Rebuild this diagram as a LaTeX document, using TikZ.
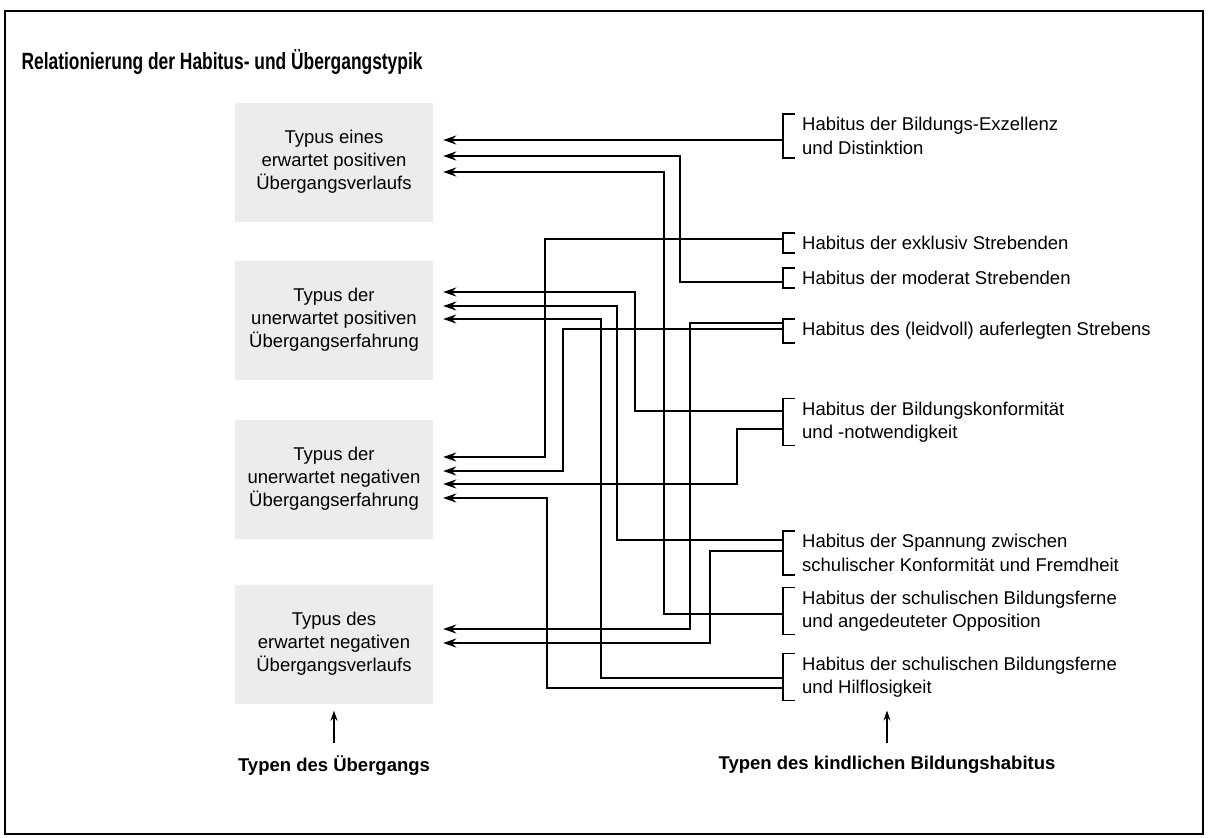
\documentclass[tikz,border=0pt]{standalone}
\usepackage{fontspec}
\setmainfont{Liberation Sans}
\newfontfamily\condfont[FakeStretch=0.74]{Liberation Sans}
\usepackage{tikz}
\usetikzlibrary{calc,arrows.meta,positioning}
\definecolor{boxgray}{RGB}{236,236,236}

\begin{document}
\begin{tikzpicture}[x=1pt,y=-1pt,
        typus/.style={fill=boxgray, minimum width=198pt, minimum height=119pt, align=center, inner sep=0pt, font=\fontsize{18.5}{23}\selectfont},
        habitus/.style={anchor=west, align=left, inner xsep=0pt, inner ysep=3pt, font=\fontsize{18.5}{23.5}\selectfont},
        klammer/.style={draw, line width=1.8pt},
        link/.style={draw, line width=2pt, -{Stealth[length=13pt,width=9pt]}},
        hinweis/.style={draw, line width=1.4pt, -{Stealth[length=10pt,width=7pt]}},
        fuss/.style={font=\fontsize{18.5}{22}\selectfont\bfseries}
        ]
        \useasboundingbox (0,0) rectangle (1208,838);
        \draw[line width=1.5pt] (5,11) rectangle (1203,834);

        \node[anchor=west, font=\fontsize{23.5}{26}\condfont\bfseries] (titel) at (18,62)
            {Relationierung der Habitus- und Übergangstypik};

        % types of transition (left)
        \foreach \name/\ypos/\txt in {
            t1/162/{Typus eines\\erwartet positiven\\Übergangsverlaufs},
            t2/320/{Typus der\\unerwartet positiven\\Übergangserfahrung},
            t3/479/{Typus der\\unerwartet negativen\\Übergangserfahrung},
            t4/644/{Typus des\\erwartet negativen\\Übergangsverlaufs}} {
            \node[typus] (\name) at (334,\ypos) {\txt};
        }

        % types of habitus (right), each with its bracket
        \foreach \name/\ypos/\txt in {
            hExz/136/{Habitus der Bildungs-Exzellenz\\und Distinktion},
            hExkl/243/{Habitus der exklusiv Strebenden},
            hMod/278/{Habitus der moderat Strebenden},
            hLeid/331/{Habitus des (leidvoll) auferlegten Strebens},
            hKonf/422/{Habitus der Bildungskonformität\\und -notwendigkeit},
            hSpann/553/{Habitus der Spannung zwischen\\schulischer Konformität und Fremdheit},
            hOpp/611/{Habitus der schulischen Bildungsferne\\und angedeuteter Opposition},
            hHilf/677/{Habitus der schulischen Bildungsferne\\und Hilflosigkeit}} {
            \node[habitus] (\name) at (802,\ypos) {\txt};
            \draw[klammer] ($(\name.north west)+(-7,0)$) -- ++(-12,0) |- ($(\name.south west)+(-7,0)$);
        }

        % vertical tracks
        \foreach \t in {545,547,563,601,617,635,664,680,690,700,710,737}
            \coordinate (v\t) at (\t,0);

        % connectors: from habitus / y offset / track / to typus / y offset
        \foreach \from/\fy/\track/\to/\ty in {
            hExz/4/700/t1/-22,
            hMod/4/680/t1/-6,
            hOpp/2.5/664/t1/10,
            hKonf/-11.5/635/t2/-28,
            hSpann/-13/617/t2/-14,
            hHilf/0.5/601/t2/-1,
            hExkl/-4/545/t3/-22,
            hLeid/-2/563/t3/-8,
            hKonf/6.5/737/t3/5,
            hHilf/10.5/547/t3/19,
            hLeid/-8/690/t4/-15,
            hSpann/-2/710/t4/-1} {
            \path ($(\from.west)+(-19,\fy)$) coordinate (s);
            \draw[link] (s) -- (s -| v\track) |- ($(\to.east)+(10,\ty)$);
        }

        \node[fuss] (lab1) at (334,766) {Typen des Übergangs};
        \node[fuss] (lab2) at (887,765) {Typen des kindlichen Bildungshabitus};
        \draw[hinweis] ($(lab1.north)+(0,-10)$) -- ($(t4.south)+(0,7)$);
        \draw[hinweis] ($(lab2.north)+(0,-10)$) -- ($(lab2.north |- hHilf.south)+(0,10)$);
\end{tikzpicture}
\end{document}
